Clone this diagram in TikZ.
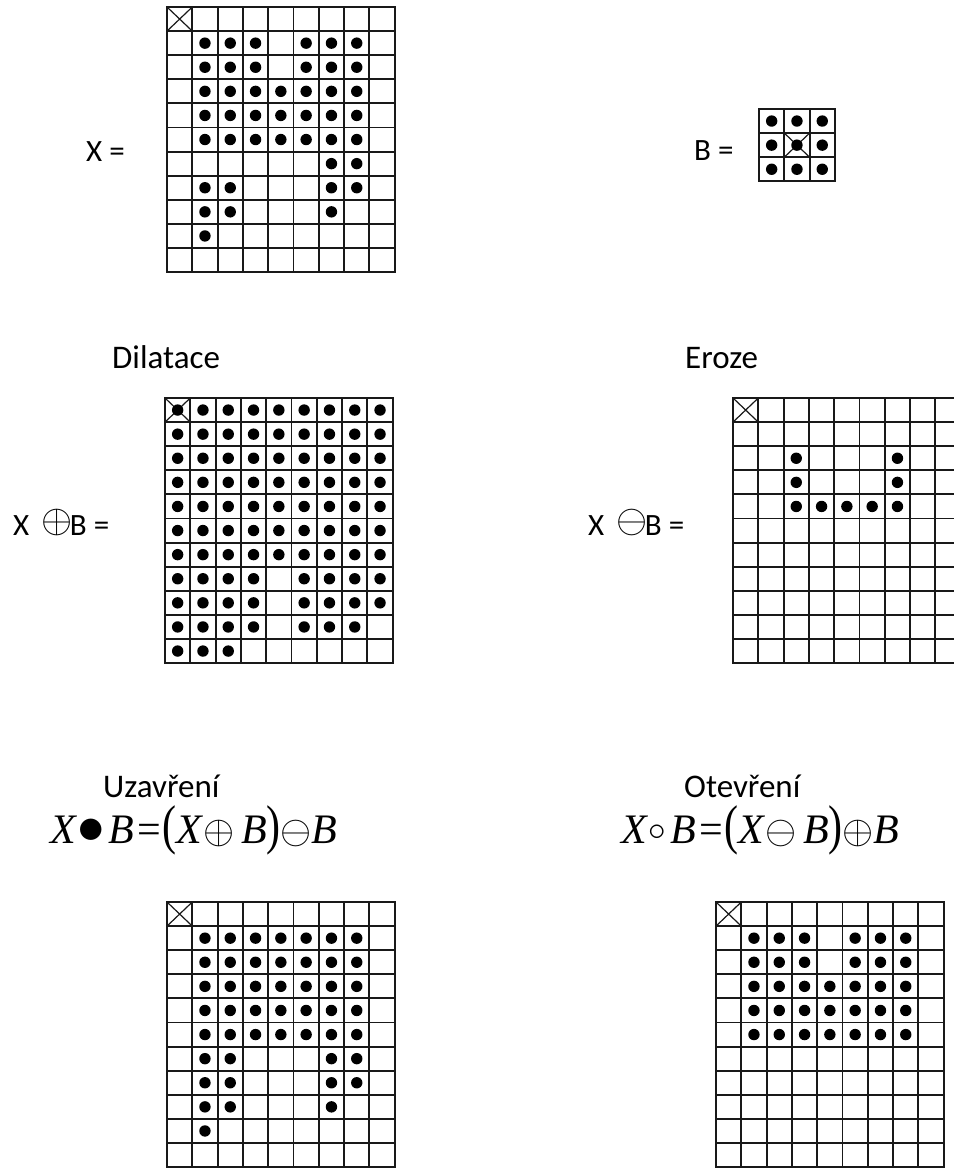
\documentclass[tikz,border=0pt]{standalone}
\usepackage{graphicx}
\usepackage{fontspec}
\setmainfont{Carlito}
\newfontfamily\tnr{Liberation Serif}
\def\cw{25.3}
\def\ch{24.1}
\newcommand\gridlines[2]{%
  \foreach \i in {0,...,#1} \draw[gridline] ({\i*\cw},0) -- ({\i*\cw},{#2*\ch});
  \foreach \j in {0,...,#2} \draw[gridline] (0,{\j*\ch}) -- ({#1*\cw},{\j*\ch});}
\newcommand\gcross[2]{\draw[crossline] ({#2*\cw},{#1*\ch}) -- ({(#2+1)*\cw},{(#1+1)*\ch}) ({(#2+1)*\cw},{#1*\ch}) -- ({#2*\cw},{(#1+1)*\ch});}
\newcommand\gdots[1]{\foreach \r/\c in {#1} \fill ({(\c+0.5)*\cw},{(\r+0.5)*\ch}) circle (5.7pt);}
\newcommand\mop[2]{\scalebox{#1}{\fontsize{10}{12}\selectfont$#2$}}
\tikzset{
  gridline/.style={line width=1.9pt, draw=black!90, line cap=rect},
  crossline/.style={line width=1.2pt, draw=black!90},
  ttl/.style={anchor=base west, inner sep=0pt, font=\fontsize{33}{33}\selectfont},
  lbl/.style={anchor=base west, inner sep=0pt, font=\fontsize{31}{31}\selectfont},
  fml/.style={anchor=base west, inner sep=0pt, font=\tnr\fontsize{42}{42}\selectfont},
}
\begin{document}
\begin{tikzpicture}[x=1pt,y=-1pt]
\useasboundingbox[fill=white] (0,0) rectangle (953,1169);
% ---------- X ----------
\node[lbl] (lx) at (86,162) {X =};
\begin{scope}[shift={(167,7)}]
  \gridlines{9}{11}
  \gcross{0}{0}
  \gdots{1/1,1/2,1/3,1/5,1/6,1/7,2/1,2/2,2/3,2/5,2/6,2/7}
  \foreach \r in {3,4,5} {\foreach \c in {1,...,7} {\fill ({(\c+0.5)*\cw},{(\r+0.5)*\ch}) circle (5.7pt);}}
  \gdots{6/6,6/7,7/1,7/2,7/6,7/7,8/1,8/2,8/6,9/1}
\end{scope}
% ---------- B ----------
\node[lbl] (lb) at (694,161) {B =};
\begin{scope}[shift={(759,109)}]
  \gridlines{3}{3}
  \gcross{1}{1}
  \foreach \r in {0,1,2} {\foreach \c in {0,1,2} {\fill ({(\c+0.5)*\cw},{(\r+0.5)*\ch}) circle (5.7pt);}}
\end{scope}
% ---------- Dilatace ----------
\node[ttl] (tdil) at (112,368) {Dilatace};
\node[lbl] (ldil) at (13,535) {X\hspace{12pt}\raisebox{2.3pt}{\mop{4}{\oplus}}\hspace{-2.5pt}B =};
\begin{scope}[shift={(165,398)}]
  \gridlines{9}{11}
  \gcross{0}{0}
  \foreach \r in {0,...,6} {\foreach \c in {0,...,8} {\fill ({(\c+0.5)*\cw},{(\r+0.5)*\ch}) circle (5.7pt);}}
  \gdots{7/0,7/1,7/2,7/3,7/5,7/6,7/7,7/8,8/0,8/1,8/2,8/3,8/5,8/6,8/7,8/8,9/0,9/1,9/2,9/3,9/5,9/6,9/7,10/0,10/1,10/2}
\end{scope}
% ---------- Eroze ----------
\node[ttl] (tero) at (685,368) {Eroze};
\node[lbl] (lero) at (588,535) {X\hspace{12pt}\raisebox{2.3pt}{\mop{4}{\ominus}}\hspace{-2.5pt}B =};
\begin{scope}[shift={(733,398)}]
  \gridlines{9}{11}
  \gcross{0}{0}
  \gdots{2/2,2/6,3/2,3/6,4/2,4/3,4/4,4/5,4/6}
\end{scope}
% ---------- Uzavreni ----------
\node[ttl] (tuz) at (103,797) {Uzavření};
\node[fml] (fuz) at (50,843) {\textit{X}\mop{5.5}{\bullet}\hspace{4pt}\textit{B}\hspace{3pt}=\hspace{1pt}\scalebox{1}[1.3]{(}\textit{X}\mop{4}{\oplus}\hspace{7pt}\textit{B}\scalebox{1}[1.3]{)}\mop{4}{\ominus}\textit{B}};
\begin{scope}[shift={(167,902)}]
  \gridlines{9}{11}
  \gcross{0}{0}
  \foreach \r in {1,...,5} {\foreach \c in {1,...,7} {\fill ({(\c+0.5)*\cw},{(\r+0.5)*\ch}) circle (5.7pt);}}
  \gdots{6/1,6/2,6/6,6/7,7/1,7/2,7/6,7/7,8/1,8/2,8/6,9/1}
\end{scope}
% ---------- Otevreni ----------
\node[ttl] (tot) at (684,797) {Otevření};
\node[fml] (fot) at (621,843) {\textit{X}\raisebox{3pt}{\mop{3.5}{\circ}}\hspace{5pt}\textit{B}\hspace{3pt}=\hspace{1pt}\scalebox{1}[1.3]{(}\textit{X}\mop{4}{\ominus}\hspace{7pt}\textit{B}\scalebox{1}[1.3]{)}\mop{4}{\oplus}\textit{B}};
\begin{scope}[shift={(716,902)}]
  \gridlines{9}{11}
  \gcross{0}{0}
  \gdots{1/1,1/2,1/3,1/5,1/6,1/7,2/1,2/2,2/3,2/5,2/6,2/7}
  \foreach \r in {3,4,5} {\foreach \c in {1,...,7} {\fill ({(\c+0.5)*\cw},{(\r+0.5)*\ch}) circle (5.7pt);}}
\end{scope}
\end{tikzpicture}
\end{document}
